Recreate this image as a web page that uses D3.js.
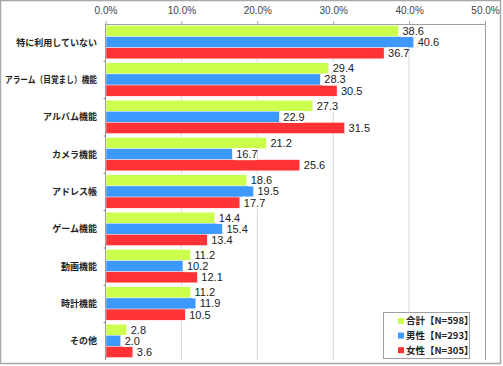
<!DOCTYPE html>
<html>
<head>
<meta charset="utf-8">
<script src="https://cdn.jsdelivr.net/npm/d3@7"></script>
<style>
  body { margin: 0; background: #fff; }
  svg { display: block; }
</style>
</head>
<body>
<div id="chart"></div>
<script>
// 項目
const categories = ["特に利用していない", "アラーム（目覚まし）機能", "アルバム機能", "カメラ機能",
    "アドレス帳", "ゲーム機能", "動画機能", "時計機能", "その他"];
const seriesNames = ["合計【N=598】", "男性【N=293】", "女性【N=305】"];
const totalValues = [38.6, 29.4, 27.3, 21.2, 18.6, 14.4, 11.2, 11.2, 2.8];
const maleValues = [40.6, 28.3, 22.9, 16.7, 19.5, 15.4, 10.2, 11.9, 2.0];
const femaleValues = [36.7, 30.5, 31.5, 25.6, 17.7, 13.4, 12.1, 10.5, 3.6];
const xTicks = [0, 10, 20, 30, 40, 50];

const colors = ["#ccff4d", "#3d99ff", "#ff3333"];
const seriesValues = [totalValues, maleValues, femaleValues];

const W = 503, H = 366;
const plot = { left: 105.5, right: 485, top: 24, bottom: 360 };
const labelRight = 97, labelMaxW = 92;

const svg = d3.select("#chart").append("svg")
    .attr("width", W)
    .attr("height", H);

// 外枠
svg.append("rect")
    .attr("x", 0.5).attr("y", 0.5)
    .attr("width", 500).attr("height", 363)
    .attr("fill", "#fff")
    .attr("stroke", "#a8a8a8")
    .attr("stroke-width", 1.5);

const x = d3.scaleLinear().domain([0, 50]).range([plot.left, plot.right]);
const y = d3.scaleBand().domain(categories).range([plot.top, plot.bottom]);
const ySub = d3.scaleBand().domain(d3.range(3))
    .range([1.5, y.bandwidth() - 2.5]);

// グリッド線
svg.append("g")
    .selectAll("line")
    .data(xTicks.slice(1, -1))
    .join("line")
    .attr("x1", d => x(d)).attr("x2", d => x(d))
    .attr("y1", plot.top).attr("y2", plot.bottom)
    .attr("stroke", "#d8d8d8")
    .attr("stroke-width", 1);

// プロット枠（上・右）
svg.append("path")
    .attr("d", `M${plot.left},${plot.top + 0.5}H${plot.right + 0.5}V${plot.bottom}`)
    .attr("fill", "none")
    .attr("stroke", "#a0a0a0")
    .attr("stroke-width", 1);

// 上軸
const xAxis = svg.append("g")
    .attr("transform", `translate(0,${plot.top})`)
    .call(d3.axisTop(x).tickValues(xTicks).tickSize(3).tickPadding(7)
        .tickFormat(d => d.toFixed(1) + "%"));
xAxis.select(".domain").remove();
xAxis.selectAll(".tick line").attr("stroke", "#a0a0a0");
xAxis.selectAll("text")
    .attr("font-family", "Liberation Sans, Arial, sans-serif")
    .attr("font-size", 10)
    .attr("fill", "#444");

// 左軸
const yAxis = svg.append("g")
    .attr("transform", `translate(${plot.left},0)`);
yAxis.append("line")
    .attr("x1", 0).attr("x2", 0)
    .attr("y1", plot.top).attr("y2", plot.bottom)
    .attr("stroke", "#888");
yAxis.selectAll(".cat-tick")
    .data(categories.slice(1))
    .join("line")
    .attr("class", "cat-tick")
    .attr("x1", -2).attr("x2", 0)
    .attr("y1", d => y(d)).attr("y2", d => y(d))
    .attr("stroke", "#888");

svg.append("g")
    .selectAll("text")
    .data(categories)
    .join("text")
    .attr("x", labelRight)
    .attr("y", d => y(d) + y.bandwidth() / 2)
    .attr("dy", "0.35em")
    .attr("text-anchor", "end")
    .attr("font-family", "Noto Sans CJK JP, sans-serif")
    .attr("font-size", 9)
    .attr("font-weight", "bold")
    .attr("fill", "#222")
    .text(d => d)
    .each(function () {
        // 長いラベルは幅に収める
        if (this.getComputedTextLength() > labelMaxW) {
            d3.select(this)
                .attr("textLength", labelMaxW)
                .attr("lengthAdjust", "spacingAndGlyphs");
        }
    });

// 棒
const rows = [];
categories.forEach((c, i) => {
    seriesValues.forEach((vals, s) => rows.push({ cat: c, s: s, v: vals[i] }));
});

svg.append("g")
    .selectAll("rect")
    .data(rows)
    .join("rect")
    .attr("x", plot.left + 0.5)
    .attr("y", d => y(d.cat) + ySub(d.s))
    .attr("width", d => x(d.v) - plot.left - 0.5)
    .attr("height", ySub.bandwidth())
    .attr("fill", d => colors[d.s])
    .attr("stroke", "#fff")
    .attr("stroke-width", 0.4);

// 数値ラベル
const labels = svg.append("g")
    .selectAll("g")
    .data(rows)
    .join("g")
    .attr("transform", d => `translate(${x(d.v) + 2},${y(d.cat) + ySub(d.s) + ySub.bandwidth() / 2})`);
labels.append("rect")
    .attr("x", 0).attr("y", -6)
    .attr("width", 22).attr("height", 12)
    .attr("fill", "#fff");
labels.append("text")
    .attr("x", 2)
    .attr("dy", "0.36em")
    .attr("font-family", "Liberation Sans, Arial, sans-serif")
    .attr("font-size", 11)
    .attr("fill", "#222")
    .text(d => d.v.toFixed(1));

// 凡例
const legend = svg.append("g").attr("transform", "translate(383,312)");
legend.append("rect")
    .attr("x", 0.5).attr("y", 0.5)
    .attr("width", 86).attr("height", 46)
    .attr("fill", "#fff")
    .attr("stroke", "#a0a0a0");
const items = legend.selectAll(".item")
    .data(seriesNames)
    .join("g")
    .attr("class", "item")
    .attr("transform", (d, i) => `translate(15,${9 + i * 14.6})`);
items.append("rect")
    .attr("x", 0).attr("y", -3)
    .attr("width", 6).attr("height", 6)
    .attr("fill", (d, i) => colors[i]);
items.append("text")
    .attr("x", 8)
    .attr("dy", "0.35em")
    .attr("font-family", "Noto Sans CJK JP, sans-serif")
    .attr("font-size", 9.5)
    .attr("font-weight", "bold")
    .attr("fill", "#222")
    .text(d => d);
</script>
</body>
</html>
